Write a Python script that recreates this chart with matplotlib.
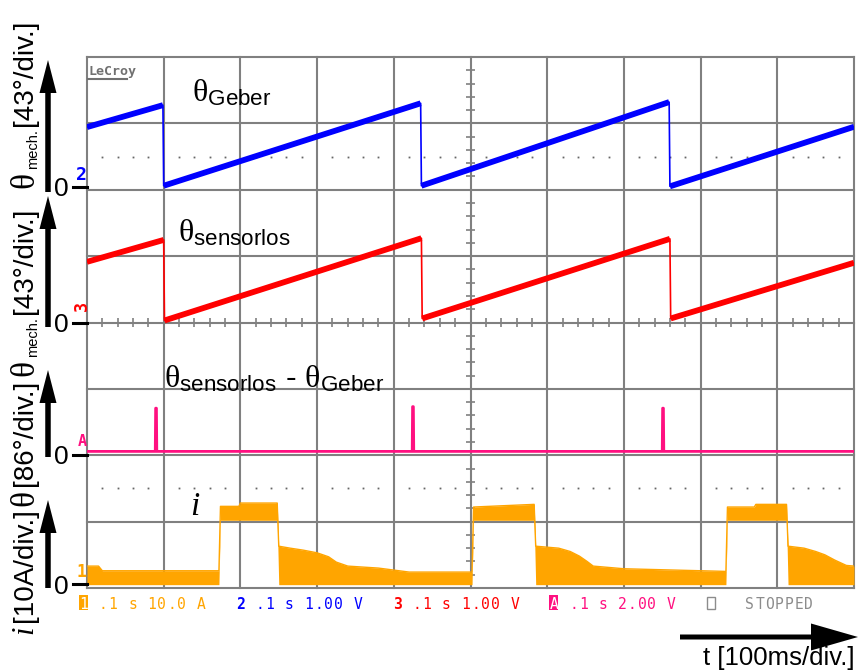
import numpy as np
import matplotlib
matplotlib.use("Agg")
import matplotlib.pyplot as plt
from matplotlib.patches import FancyArrow, Rectangle
from matplotlib.transforms import Affine2D
from matplotlib.lines import Line2D

W, H = 858, 670

plt.rcParams['font.family'] = ['Liberation Sans', 'DejaVu Sans']
plt.rcParams['mathtext.fontset'] = 'custom'
plt.rcParams['mathtext.rm'] = 'Liberation Serif'
plt.rcParams['mathtext.sf'] = 'Liberation Sans'
plt.rcParams['mathtext.it'] = 'Liberation Serif:italic'

# --- scope settings -------------------------------------------------------
ms_per_div = 100
n_xdiv, n_ydiv = 10, 8

# --- channel 2: encoder angle [deg], 43 deg/div --------------------------
geber_t = [0, 99, 100, 435, 436, 759, 760, 1000]
geber_deg = [40.6, 54.8, 2.6, 56.0, 2.6, 56.8, 2.2, 40.8]

# --- channel 3: sensorless angle estimate [deg], 43 deg/div --------------
sensorlos_t = [0, 100, 101, 436, 437, 760, 761, 1000]
sensorlos_deg = [39.3, 53.5, 1.3, 54.6, 2.6, 54.2, 2.6, 38.7]

# --- math channel A: estimate minus encoder [deg], 86 deg/div -------------
diff_t = [0, 89, 89.5, 90.5, 91, 424, 424.5, 425.5, 426, 750, 750.5, 751.5, 752, 1000]
diff_deg = [5, 5, 61, 61, 5, 5, 63, 63, 5, 5, 61, 61, 5, 5]

# --- channel 1: phase current envelope [A], 10 A/div ----------------------
cur_t = [0, 15, 20, 172, 174, 198, 200, 248, 250, 265, 282, 300, 315, 325, 340,
         380, 420, 502, 504, 583, 585, 615, 630, 642, 652, 660, 700, 800, 833,
         835, 870, 872, 912, 914, 935, 950, 962, 975, 990, 1000]
cur_top = [3.3, 3.3, 2.6, 2.6, 12.3, 12.3, 12.8, 12.8, 6.3, 6.0, 5.7, 5.3, 4.7,
           3.9, 3.3, 3.0, 2.4, 2.4, 12.2, 12.6, 6.3, 6.0, 5.5, 4.8, 4.0, 3.3,
           2.9, 2.6, 2.5, 12.2, 12.2, 12.6, 12.6, 6.3, 6.0, 5.5, 5.0, 4.2, 3.4, 3.3]
cur_low = [0.5, 0.5, 0.5, 0.5, 10.2, 10.2, 10.2, 10.2, 0.5, 0.5, 0.5, 0.5, 0.5,
           0.5, 0.5, 0.5, 0.5, 0.5, 10.2, 10.2, 0.5, 0.5, 0.5, 0.5, 0.5, 0.5,
           0.5, 0.5, 0.5, 10.2, 10.2, 10.2, 10.2, 0.5, 0.5, 0.5, 0.5, 0.5, 0.5, 0.5]

# vertical scales and screen offsets (divisions)
scale_geber, offset_geber = 43.0, 6
scale_sensorlos, offset_sensorlos = 43.0, 4
scale_diff, offset_diff = 86.0, 2
scale_cur, offset_cur = 10.0, 0

C_BLUE = '#0000ff'
C_RED = '#ff0000'
C_PINK = '#ff1080'
C_ORANGE = '#ffa500'
C_GRID = '#808080'
C_GRAY = '#8c8c8c'

fig = plt.figure(figsize=(W / 100, H / 100), dpi=100)
fig.patch.set_facecolor('white')
renderer = fig.canvas.get_renderer()
# pixel coordinates measured from the top-left corner
T = Affine2D().scale(1 / W, -1 / H).translate(0, 1) + fig.transFigure

ax = fig.add_axes([87 / W, 1 - 588 / H, 767 / W, 531 / H])
ax.set_xlim(0, n_xdiv * ms_per_div)
ax.set_ylim(0, n_ydiv)
ax.axis('off')

# graticule
for k in range(n_xdiv + 1):
    ax.axvline(k * ms_per_div, color=C_GRID, lw=1.5, clip_on=False, zorder=1)
for k in range(n_ydiv + 1):
    ax.axhline(k, color=C_GRID, lw=1.5, clip_on=False, zorder=1)

# centre cross with minor ticks
tx = np.arange(0, n_xdiv * ms_per_div + 1, ms_per_div / 5)
ax.vlines(tx, n_ydiv / 2 - 0.065, n_ydiv / 2 + 0.065, color=C_GRID, lw=1.2, zorder=1)
ty = np.arange(0, n_ydiv + 0.01, 0.2)
ax.hlines(ty, 500 - 6.5, 500 + 6.5, color=C_GRID, lw=1.2, zorder=1)

# dotted level markers
dot_x = [k * ms_per_div / 5 for k in range(n_xdiv * 5 + 1) if k % 5]
for lvl in (6.5, 1.5):
    ax.plot(dot_x, [lvl] * len(dot_x), ls='none', marker='s', ms=1.3,
            mec='none', mfc='#666666', zorder=1)


def ramps(t, v, scale, offset, color, thick):
    y = offset + np.asarray(v) / scale
    for i in range(0, len(t), 2):
        ax.plot(t[i:i + 2], y[i:i + 2], color=color, lw=thick,
                solid_capstyle='butt', zorder=3)
    ax.plot(t, y, color=color, lw=1.2, zorder=3)


ramps(geber_t, geber_deg, scale_geber, offset_geber, C_BLUE, 4.2)
ramps(sensorlos_t, sensorlos_deg, scale_sensorlos, offset_sensorlos, C_RED, 4.2)

yd = offset_diff + np.asarray(diff_deg) / scale_diff
ax.plot(diff_t, yd, color=C_PINK, lw=2.0, zorder=3)

yc_top = offset_cur + np.asarray(cur_top) / scale_cur
yc_low = offset_cur + np.asarray(cur_low) / scale_cur
ax.fill_between(cur_t, yc_low, yc_top, color=C_ORANGE, lw=0, zorder=2)
ax.plot(cur_t, yc_top, color=C_ORANGE, lw=1.0, zorder=2)

# trace labels inside the screen
fig.text(192, 102, r"$\mathrm{θ}_{\mathsf{Geber}}$", fontsize=23, transform=T,
         ha='left', va='baseline')
fig.text(178, 242, r"$\mathrm{θ}_{\mathsf{sensorlos}}$", fontsize=23, transform=T,
         ha='left', va='baseline')
fig.text(164, 387, r"$\mathrm{θ}_{\mathsf{sensorlos}}$ - $\mathrm{θ}_{\mathsf{Geber}}$",
         fontsize=23, transform=T, ha='left', va='baseline')
fig.text(190, 515, "i", fontsize=24, family='Liberation Serif', style='italic',
         transform=T, ha='left', va='baseline')

# LeCroy logo
fig.text(88, 75, "LeCroy", fontsize=9.5, family='DejaVu Sans Mono', weight='bold',
         color='#707070', transform=T, ha='left', va='baseline')
fig.add_artist(Line2D([88, 127], [79, 79], color='#707070', lw=1.5, transform=T))

# channel markers at the left edge of the screen
fig.text(87, 175, "2", fontsize=13, family='DejaVu Sans Mono', weight='bold',
         color=C_BLUE, transform=T, ha='right', va='center')
fig.text(82, 306, "3", fontsize=12, family='DejaVu Sans Mono', weight='bold',
         color=C_RED, transform=T, ha='center', va='center', rotation=90)
fig.text(87, 441, "A", fontsize=11, family='DejaVu Sans Mono', weight='bold',
         color=C_PINK, transform=T, ha='right', va='center')
fig.text(87, 572, "1", fontsize=12, family='DejaVu Sans Mono', weight='bold',
         color=C_ORANGE, transform=T, ha='right', va='center')

# zero markers
zero_y = [187, 323, 455, 584]
for zy in zero_y:
    fig.add_artist(Line2D([73, 87], [zy, zy], color='black', lw=2.2, transform=T))
    fig.text(69, zy + 9.5, "0", fontsize=19, transform=T, ha='right', va='baseline')

# vertical axis arrows
arrows = [(192, 60), (327, 196), (457, 370), (588, 500)]
for y0, y1 in arrows:
    fig.add_artist(FancyArrow(48, y0, 0, y1 - y0, width=5.5, head_width=17,
                              head_length=33, length_includes_head=True,
                              color='black', lw=0, transform=T))


# rotated axis captions, built bottom-up from pieces of different size
def caption(x_base, y_start, pieces):
    y = y_start
    for text, size, family, style, dx, gap in pieces:
        t = fig.text(x_base + dx, y, text, fontsize=size, family=family,
                     style=style, rotation=90, rotation_mode='anchor',
                     ha='left', va='baseline', transform=T)
        bb = t.get_window_extent(renderer)
        y -= bb.height + gap


SERIF, SANS = 'Liberation Serif', 'Liberation Sans'
caption(32, 188, [("θ", 24, SERIF, 'normal', 1, 3),
                  ("mech.", 10.5, SANS, 'normal', 5, 3),
                  ("[43°/div.]", 20, SANS, 'normal', 0, 0)])
caption(32, 376, [("θ", 24, SERIF, 'normal', 1, 3),
                  ("mech.", 10.5, SANS, 'normal', 5, 3),
                  ("[43°/div.]", 20, SANS, 'normal', 0, 0)])
caption(32, 506, [("θ", 24, SERIF, 'normal', 1, 4),
                  ("[86°/div.]", 20, SANS, 'normal', 0, 0)])
caption(32, 634, [("i", 22, SERIF, 'italic', 0, 3),
                  ("[10A/div.]", 20, SANS, 'normal', 0, 0)])

# time axis arrow and caption
fig.add_artist(FancyArrow(680, 637, 178, 0, width=5, head_width=27,
                          head_length=47, length_includes_head=True,
                          color='black', lw=0, transform=T))
fig.text(855, 665, "t [100ms/div.]", fontsize=18.5, transform=T,
         ha='right', va='baseline')

# status line of the scope
cw = 9.8
x0 = 78.5
base_y = 609


def status(col, text, color, bold_first=False, boxed=False):
    for i, ch in enumerate(text):
        if ch == ' ':
            continue
        cx = x0 + (col + i + 0.5) * cw
        weight = 'bold' if (bold_first and i == 0) else 'normal'
        c = color
        if boxed and i == 0:
            fig.add_artist(Rectangle((cx - 4.5, base_y - 14), 9, 15, color=color,
                                     lw=0, transform=T))
            c = 'white'
        fig.text(cx, base_y, ch, fontsize=10.5, family='DejaVu Sans Mono',
                 weight=weight, color=c, transform=T, ha='center', va='baseline')


status(0, "1 .1 s 10.0 A", C_ORANGE, boxed=True)
status(16, "2 .1 s 1.00 V", C_BLUE, bold_first=True)
status(32, "3 .1 s 1.00 V", C_RED, bold_first=True)
status(48, "A .1 s 2.00 V", C_PINK, boxed=True)
bx = x0 + 64 * cw
fig.add_artist(Rectangle((bx + 1.5, base_y - 12), 7.5, 12, fill=False,
                         edgecolor=C_GRAY, lw=1.0, transform=T))
status(68, "STOPPED", C_GRAY)

fig.savefig("out.png", dpi=100, facecolor='white')
